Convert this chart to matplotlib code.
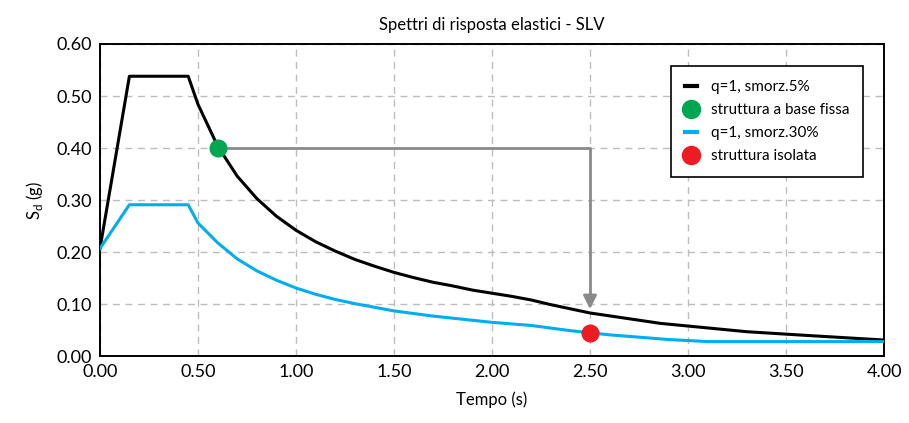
import matplotlib
matplotlib.use("Agg")
from matplotlib import pyplot as plt
from matplotlib.lines import Line2D

plt.rcParams['font.family'] = ['Lato', 'DejaVu Sans']

# spectrum q=1, damping 5%
t_black = [0.00, 0.15, 0.45, 0.50, 0.60, 0.70, 0.80, 0.90, 1.00, 1.10, 1.20, 1.30,
           1.40, 1.50, 1.60, 1.70, 1.80, 1.90, 2.00, 2.10, 2.20, 2.30, 2.40, 2.50,
           2.86, 3.30, 3.60, 4.00]
sd_black = [0.207, 0.538, 0.538, 0.484, 0.404, 0.346, 0.303, 0.269, 0.242, 0.220,
            0.202, 0.186, 0.173, 0.161, 0.151, 0.142, 0.135, 0.127, 0.121, 0.115,
            0.108, 0.099, 0.091, 0.083, 0.063, 0.047, 0.040, 0.031]

# spectrum q=1, damping 30%
t_blue = [0.00, 0.15, 0.45, 0.50, 0.60, 0.70, 0.80, 0.90, 1.00, 1.10, 1.20, 1.30,
          1.40, 1.50, 1.60, 1.70, 1.80, 1.90, 2.00, 2.10, 2.20, 2.30, 2.40, 2.50,
          2.60, 2.70, 2.80, 2.90, 3.00, 3.10, 4.00]
sd_blue = [0.207, 0.291, 0.291, 0.256, 0.218, 0.187, 0.164, 0.146, 0.131, 0.119,
           0.109, 0.101, 0.094, 0.087, 0.082, 0.077, 0.073, 0.069, 0.065, 0.062,
           0.059, 0.054, 0.049, 0.045, 0.041, 0.038, 0.035, 0.032, 0.030, 0.028,
           0.028]

fixed_pt = (0.60, 0.40)
isolated_pt = (2.50, 0.045)
arrow_end = 0.085

fig = plt.figure(figsize=(9.09, 4.23), dpi=100)
ax = fig.add_axes([0.110, 0.158, 0.8625, 0.738])

ax.plot(t_black, sd_black, color='black', lw=2.2, zorder=3)
ax.plot(t_blue, sd_blue, color='#00aeef', lw=2.2, zorder=3)

# arrow from fixed-base to isolated
gray = '#8a8a8d'
ax.plot([fixed_pt[0], isolated_pt[0], isolated_pt[0]],
        [fixed_pt[1], fixed_pt[1], arrow_end + 0.02], color=gray, lw=2, zorder=2)
ax.annotate('', xy=(isolated_pt[0], arrow_end), xytext=(isolated_pt[0], arrow_end + 0.025),
            arrowprops=dict(arrowstyle='-|>', color=gray, lw=2, mutation_scale=20),
            zorder=2)

ax.plot(*fixed_pt, 'o', color='#00a651', ms=12, zorder=5)
ax.plot(*isolated_pt, 'o', color='#ed1c24', ms=12, zorder=5)

ax.set_xlim(0, 4)
ax.set_ylim(0, 0.6)
ax.set_xticks([i * 0.5 for i in range(9)])
ax.set_yticks([i * 0.1 for i in range(7)])
ax.set_xticklabels(['%.2f' % (i * 0.5) for i in range(9)])
ax.set_yticklabels(['%.2f' % (i * 0.1) for i in range(7)])
ax.tick_params(length=0, labelsize=13, pad=6)
ax.grid(True, color='#bdbdbd', linestyle=(0, (5, 4)), lw=1)
for s in ax.spines.values():
    s.set_linewidth(1.4)

ax.set_title('Spettri di risposta elastici - SLV', fontsize=12, pad=10)
ax.set_xlabel('Tempo (s)', fontsize=12, labelpad=8)
ax.set_ylabel(r'S$_\mathregular{d}$ (g)', fontsize=12, labelpad=8)

handles = [
    Line2D([], [], color='black', lw=3),
    Line2D([], [], marker='o', ls='none', color='#00a651', ms=13),
    Line2D([], [], color='#00aeef', lw=3),
    Line2D([], [], marker='o', ls='none', color='#ed1c24', ms=13),
]
labels = ['q=1, smorz.5%', 'struttura a base fissa', 'q=1, smorz.30%', 'struttura isolata']
leg = ax.legend(handles, labels, loc='upper right', bbox_to_anchor=(0.973, 0.929),
                borderaxespad=0, fontsize=11, frameon=True, fancybox=False,
                handlelength=0.8, handletextpad=0.9, labelspacing=0.6,
                borderpad=0.9)
leg.get_frame().set_edgecolor('black')
leg.get_frame().set_linewidth(1.2)
leg.get_frame().set_alpha(1)

fig.savefig('out.png', dpi=100)
